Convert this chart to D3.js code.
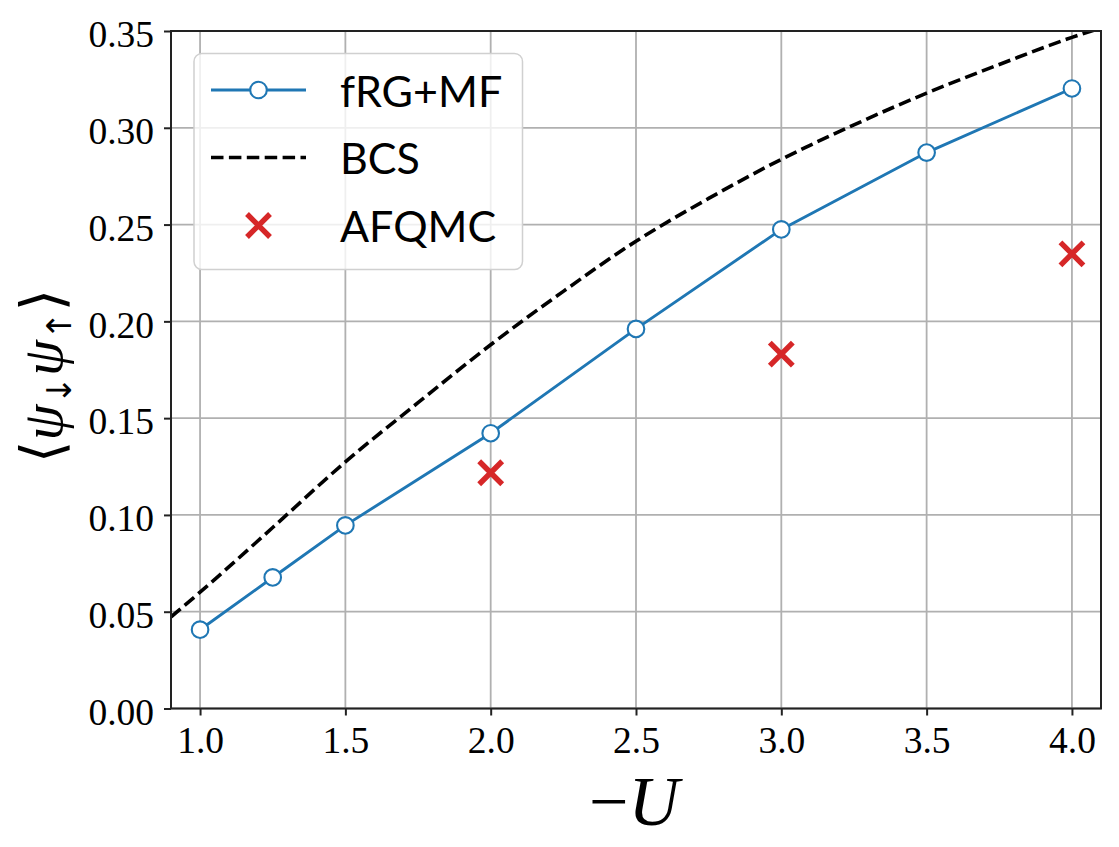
<!DOCTYPE html>
<html>
<head>
<meta charset="utf-8">
<script src="https://cdn.jsdelivr.net/npm/d3@7/dist/d3.min.js"></script>
<style>
  html, body { margin: 0; padding: 0; background: #fff; }
  svg { display: block; }
</style>
</head>
<body>
<svg id="chart" width="1119" height="847"></svg>
<script>
// ---- data ----
const frgU   = [1.0, 1.25, 1.5, 2.0, 2.5, 3.0, 3.5, 4.0];
const frgVal = [0.0407, 0.0677, 0.0946, 0.1422, 0.1961, 0.2475, 0.2872, 0.3203];
const bcsU   = [0.9, 1.0, 1.25, 1.5, 1.75, 2.0, 2.25, 2.5, 2.75, 3.0, 3.25, 3.5, 3.75, 4.0, 4.1];
const bcsVal = [0.0473, 0.0601, 0.0935, 0.1274, 0.1580, 0.1879, 0.2155, 0.2414, 0.2635, 0.2837, 0.3015, 0.3179, 0.3327, 0.3467, 0.3516];
const afqU   = [2.0, 3.0, 4.0];
const afqVal = [0.1218, 0.1831, 0.2349];
const xTicks = [1.0, 1.5, 2.0, 2.5, 3.0, 3.5, 4.0];
const yTicks = [0.00, 0.05, 0.10, 0.15, 0.20, 0.25, 0.30, 0.35];
const seriesNames = ["fRG+MF", "BCS", "AFQMC"];

// ---- layout ----
const L = 171, R = 1101, T = 31, B = 708.5;
const svg = d3.select("#chart");
const x = d3.scaleLinear().domain([0.9, 4.1]).range([L, R]);
const y = d3.scaleLinear().domain([0, 0.35]).range([B, T]);

const blue = "#1f77b4", red = "#d62728";
const tickFont = "'Liberation Serif', 'DejaVu Serif', serif";

// clip
svg.append("defs").append("clipPath").attr("id", "clip")
  .append("rect").attr("x", L).attr("y", T).attr("width", R - L).attr("height", B - T);

// grid
const grid = svg.append("g");
grid.selectAll(".gx").data(xTicks).join("line")
  .attr("x1", d => x(d)).attr("x2", d => x(d)).attr("y1", T).attr("y2", B)
  .attr("stroke", "#b0b0b0").attr("stroke-width", 1.8);
grid.selectAll(".gy").data(yTicks).join("line")
  .attr("y1", d => y(d)).attr("y2", d => y(d)).attr("x1", L).attr("x2", R)
  .attr("stroke", "#b0b0b0").attr("stroke-width", 1.8);

// axes
const xAxis = d3.axisBottom(x).tickValues(xTicks).tickFormat(d3.format(".1f")).tickSize(7).tickPadding(8);
const yAxis = d3.axisLeft(y).tickValues(yTicks).tickFormat(d3.format(".2f")).tickSize(7).tickPadding(10);

const gx = svg.append("g").attr("transform", `translate(0,${B})`).call(xAxis);
const gy = svg.append("g").attr("transform", `translate(${L},0)`).call(yAxis);
[gx, gy].forEach(g => {
  g.select(".domain").remove();
  g.selectAll(".tick line").attr("stroke", "#222").attr("stroke-width", 2);
  g.selectAll(".tick text").attr("font-family", tickFont).attr("font-size", 37.5).attr("fill", "#000");
});
gx.selectAll(".tick text").attr("dy", "0.71em").attr("y", 18);
gy.selectAll(".tick text").attr("dy", "0.42em");

const plot = svg.append("g").attr("clip-path", "url(#clip)");

// BCS dashed
plot.append("path")
  .datum(bcsU.map((u, i) => [u, bcsVal[i]]))
  .attr("d", d3.line().x(d => x(d[0])).y(d => y(d[1])).curve(d3.curveMonotoneX))
  .attr("fill", "none").attr("stroke", "#000").attr("stroke-width", 3.6)
  .attr("stroke-dasharray", "12.5,5.4");

// fRG line
const frgData = frgU.map((u, i) => [u, frgVal[i]]);
plot.append("path")
  .datum(frgData)
  .attr("d", d3.line().x(d => x(d[0])).y(d => y(d[1])))
  .attr("fill", "none").attr("stroke", blue).attr("stroke-width", 2.9);

// AFQMC crosses
const cross = (g, cx, cy) => {
  const s = 11.5;
  g.append("path")
    .attr("d", `M${cx - s},${cy - s}L${cx + s},${cy + s}M${cx - s},${cy + s}L${cx + s},${cy - s}`)
    .attr("stroke", red).attr("stroke-width", 5.4).attr("fill", "none");
};
afqU.forEach((u, i) => cross(svg, x(u), y(afqVal[i])));

// fRG markers
svg.append("g").selectAll("circle").data(frgData).join("circle")
  .attr("cx", d => x(d[0])).attr("cy", d => y(d[1])).attr("r", 8.3)
  .attr("fill", "#fff").attr("stroke", blue).attr("stroke-width", 2.1);

// spines
svg.append("rect").attr("x", L).attr("y", T).attr("width", R - L).attr("height", B - T)
  .attr("fill", "none").attr("stroke", "#222").attr("stroke-width", 2);

// legend
const lg = svg.append("g");
lg.append("rect").attr("x", 194).attr("y", 53.5).attr("width", 328.5).attr("height", 216)
  .attr("rx", 8).attr("fill", "rgba(255,255,255,0.8)").attr("stroke", "#d0d0d0").attr("stroke-width", 1.5);
const rowY = [90, 157.5, 225.5];
lg.append("line").attr("x1", 211).attr("x2", 306).attr("y1", rowY[0]).attr("y2", rowY[0])
  .attr("stroke", blue).attr("stroke-width", 2.9);
lg.append("circle").attr("cx", 258.5).attr("cy", rowY[0]).attr("r", 8.3)
  .attr("fill", "#fff").attr("stroke", blue).attr("stroke-width", 2.1);
lg.append("line").attr("x1", 211).attr("x2", 306).attr("y1", rowY[1]).attr("y2", rowY[1])
  .attr("stroke", "#000").attr("stroke-width", 3.6).attr("stroke-dasharray", "12.5,5.4");
cross(lg, 258.5, rowY[2]);
lg.selectAll("text.lt").data(seriesNames).join("text")
  .attr("x", 340).attr("y", (d, i) => rowY[i] + 16.5)
  .attr("font-family", "Lato, 'DejaVu Sans', sans-serif").attr("font-size", 43)
  .attr("fill", "#000").text(d => d);

// x label: −U
const xl = svg.append("text").attr("x", 634).attr("y", 825).attr("text-anchor", "middle")
  .attr("font-family", tickFont).attr("font-size", 70).attr("fill", "#000");
xl.append("tspan").text("\u2212");
xl.append("tspan").attr("font-style", "italic").text("U");

// y label: ⟨ψ↓ψ↑⟩
const yl = svg.append("text")
  .attr("transform", "translate(62,376) rotate(-90)")
  .attr("text-anchor", "middle")
  .attr("font-family", tickFont).attr("font-size", 58).attr("fill", "#000");
yl.append("tspan").attr("font-family", "'DejaVu Serif', serif").text("\u27E8");
yl.append("tspan").attr("font-style", "italic").text("\u03C8");
yl.append("tspan").attr("font-family", "'DejaVu Sans', sans-serif").attr("font-size", 34).attr("dy", 9).text("\u2193");
yl.append("tspan").attr("font-style", "italic").attr("dy", -9).text("\u03C8");
yl.append("tspan").attr("font-family", "'DejaVu Sans', sans-serif").attr("font-size", 34).attr("dy", 9).text("\u2191");
yl.append("tspan").attr("font-family", "'DejaVu Serif', serif").attr("dy", -9).text("\u27E9");
</script>
</body>
</html>
